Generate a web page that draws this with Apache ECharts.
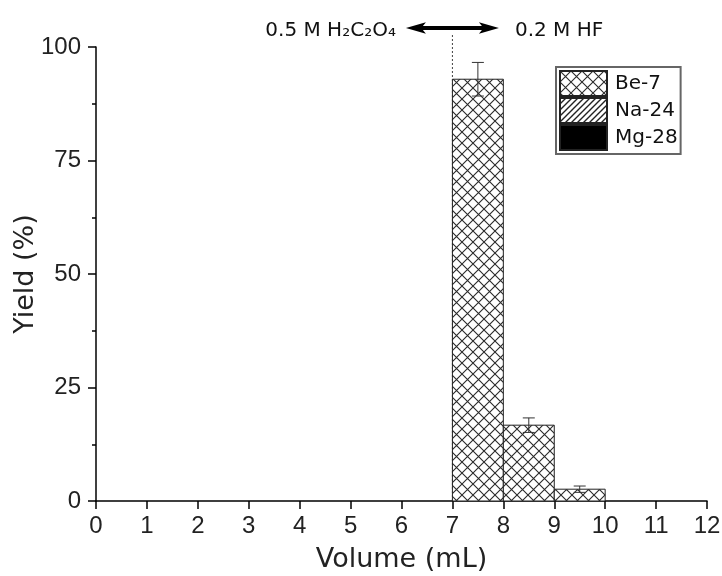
<!DOCTYPE html>
<html>
<head>
<meta charset="utf-8">
<script src="https://cdn.jsdelivr.net/npm/echarts@6/dist/echarts.min.js"></script>
<style>
html,body{margin:0;padding:0;background:#fff;}
#c{width:722px;height:576px;}
</style>
</head>
<body>
<div id="c"></div>
<script>
// ---- data ----
var binStart = [7, 8, 9];
var binEnd = [8, 9, 10];
var be7 = [92.9, 16.7, 2.6];
var be7Err = [3.7, 1.6, 0.7];
var na24 = [0, 0, 0];
var na24Err = [0, 0, 0];
var mg28 = [0, 0, 0];
var mg28Err = [0, 0, 0];
var seriesNames = ['Be-7', 'Na-24', 'Mg-28'];
var xTicks = [0,1,2,3,4,5,6,7,8,9,10,11,12];
var yTicks = [0, 25, 50, 75, 100];
var eluentSwitchX = 7;
var eluentLeft = '0.5 M H\u2082C\u2082O\u2084';
var eluentRight = '0.2 M HF';

var TFONT = '"DejaVu Sans", sans-serif';
var NFONT = '"Liberation Sans", Arial, sans-serif';

function makeCross() {
  var c = document.createElement('canvas');
  c.width = 11; c.height = 11;
  var g = c.getContext('2d');
  g.fillStyle = '#fff'; g.fillRect(0,0,11,11);
  g.strokeStyle = '#2a2a2a'; g.lineWidth = 1.1;
  g.beginPath();
  g.moveTo(0,0); g.lineTo(11,11);
  g.moveTo(11,0); g.lineTo(0,11);
  g.stroke();
  return {image: c, repeat: 'repeat'};
}
function makeDiag() {
  var c = document.createElement('canvas');
  c.width = 6; c.height = 6;
  var g = c.getContext('2d');
  g.fillStyle = '#fff'; g.fillRect(0,0,6,6);
  g.strokeStyle = '#222'; g.lineWidth = 1.4;
  g.beginPath();
  g.moveTo(-1,7); g.lineTo(7,-1);
  g.moveTo(-4,4); g.lineTo(4,-4);
  g.moveTo(2,10); g.lineTo(10,2);
  g.stroke();
  return {image: c, repeat: 'repeat'};
}
var fills = [makeCross(), makeDiag(), '#000'];

function buildData(vals, errs) {
  return vals.map(function (v, i) { return [binStart[i], binEnd[i], v, errs[i]]; });
}

function barRender(fill) {
  return function (params, api) {
    var x0 = api.value(0), x1 = api.value(1), y = api.value(2), e = api.value(3);
    if (!(y > 0)) return null;
    var p0 = api.coord([x0, 0]);
    var p1 = api.coord([x1, y]);
    var pc = api.coord([(x0 + x1) / 2, y + e]);
    var pl = api.coord([(x0 + x1) / 2, y - e]);
    var children = [{
      type: 'rect',
      shape: {x: p0[0], y: p1[1], width: p1[0] - p0[0], height: p0[1] - p1[1]},
      style: {fill: fill, stroke: '#222', lineWidth: 1}
    }];
    if (e > 0) {
      var cx = pc[0], cap = 6;
      children.push({type: 'line', shape: {x1: cx, y1: pc[1], x2: cx, y2: pl[1]}, style: {stroke: '#333', lineWidth: 1}});
      children.push({type: 'line', shape: {x1: cx - cap, y1: pc[1], x2: cx + cap, y2: pc[1]}, style: {stroke: '#333', lineWidth: 1}});
      children.push({type: 'line', shape: {x1: cx - cap, y1: pl[1], x2: cx + cap, y2: pl[1]}, style: {stroke: '#333', lineWidth: 1}});
    }
    return {type: 'group', children: children};
  };
}

var allVals = [be7, na24, mg28];
var allErrs = [be7Err, na24Err, mg28Err];
var series = seriesNames.map(function (n, i) {
  return {
    name: n,
    type: 'custom',
    z: 3,
    itemStyle: {color: fills[i], borderColor: '#222', borderWidth: 1},
    encode: {x: [0, 1], y: 2},
    data: buildData(allVals[i], allErrs[i]),
    renderItem: barRender(fills[i])
  };
});

// annotation: dotted switch line, double arrow, eluent labels
series.push({
  name: 'annot',
  type: 'custom',
  z: 1,
  clip: false,
  silent: true,
  data: [[eluentSwitchX]],
  encode: {x: 0},
  renderItem: function (params, api) {
    var xs = api.value(0);
    var b = api.coord([xs, 0]);
    var t = api.coord([xs, yTicks[yTicks.length - 1]]);
    var cx = b[0];
    var lineTop = t[1] - 12;
    var ay = t[1] - 19;
    var half = 46.5, head = 20, hh = 5.8, sw = 2;
    var arrow = [
      [cx - half, ay], [cx - half + head, ay - hh], [cx - half + head - 3, ay - sw],
      [cx + half - head + 3, ay - sw], [cx + half - head, ay - hh], [cx + half, ay],
      [cx + half - head, ay + hh], [cx + half - head + 3, ay + sw],
      [cx - half + head - 3, ay + sw], [cx - half + head, ay + hh]
    ];
    return {
      type: 'group',
      children: [
        {type: 'line', shape: {x1: cx, y1: lineTop, x2: cx, y2: b[1]}, style: {stroke: '#444', lineWidth: 1, lineDash: [2, 2]}},
        {type: 'polygon', shape: {points: arrow}, style: {fill: '#000'}},
        {type: 'text', x: cx - half - 10, y: t[1] - 16,
          style: {text: eluentLeft, fontFamily: TFONT, fontSize: 20, fill: '#111', align: 'right', verticalAlign: 'middle'}},
        {type: 'text', x: cx + half + 16, y: t[1] - 16,
          style: {text: eluentRight, fontFamily: TFONT, fontSize: 20, fill: '#111', align: 'left', verticalAlign: 'middle'}}
      ]
    };
  }
});

var chart = echarts.init(document.getElementById('c'), null, {renderer: 'canvas'});
chart.setOption({
  backgroundColor: '#fff',
  animation: false,
  grid: {left: 96, right: 15, top: 47, bottom: 75, containLabel: false, outerBoundsMode: 'none'},
  legend: {
    data: seriesNames,
    orient: 'vertical',
    left: 556, top: 67,
    itemWidth: 47, itemHeight: 25, itemGap: 0,
    padding: [3, 3, 3, 3],
    borderColor: '#666', borderWidth: 2,
    backgroundColor: '#fff',
    icon: 'rect',
    selectedMode: false,
    textStyle: {fontFamily: TFONT, fontSize: 20, color: '#111', lineHeight: 25, padding: [0, 0, 0, 3]}
  },
  xAxis: {
    type: 'value', min: xTicks[0], max: xTicks[xTicks.length - 1], interval: 1,
    name: 'Volume (mL)', nameLocation: 'middle', nameGap: 45,
    nameTextStyle: {fontFamily: TFONT, fontSize: 27, color: '#222'},
    axisLine: {show: true, onZero: false, lineStyle: {color: '#000', width: 1.5}},
    axisTick: {show: true, inside: false, length: 8, lineStyle: {color: '#000', width: 1.5}},
    axisLabel: {fontFamily: NFONT, fontSize: 24, color: '#222', margin: 13},
    splitLine: {show: false}
  },
  yAxis: {
    type: 'value', min: yTicks[0], max: yTicks[yTicks.length - 1], interval: 25,
    name: 'Yield (%)', nameLocation: 'middle', nameGap: 57, nameRotate: 90,
    nameMoveOverlap: false,
    nameTextStyle: {fontFamily: TFONT, fontSize: 27, color: '#222'},
    axisLine: {show: true, onZero: false, lineStyle: {color: '#000', width: 1.5}},
    axisTick: {show: true, inside: false, length: 8, lineStyle: {color: '#000', width: 1.5}},
    minorTick: {show: true, splitNumber: 2, length: 4, lineStyle: {color: '#000', width: 1.5}},
    axisLabel: {fontFamily: NFONT, fontSize: 24, color: '#222', margin: 15},
    splitLine: {show: false}
  },
  series: series
});
</script>
</body>
</html>
